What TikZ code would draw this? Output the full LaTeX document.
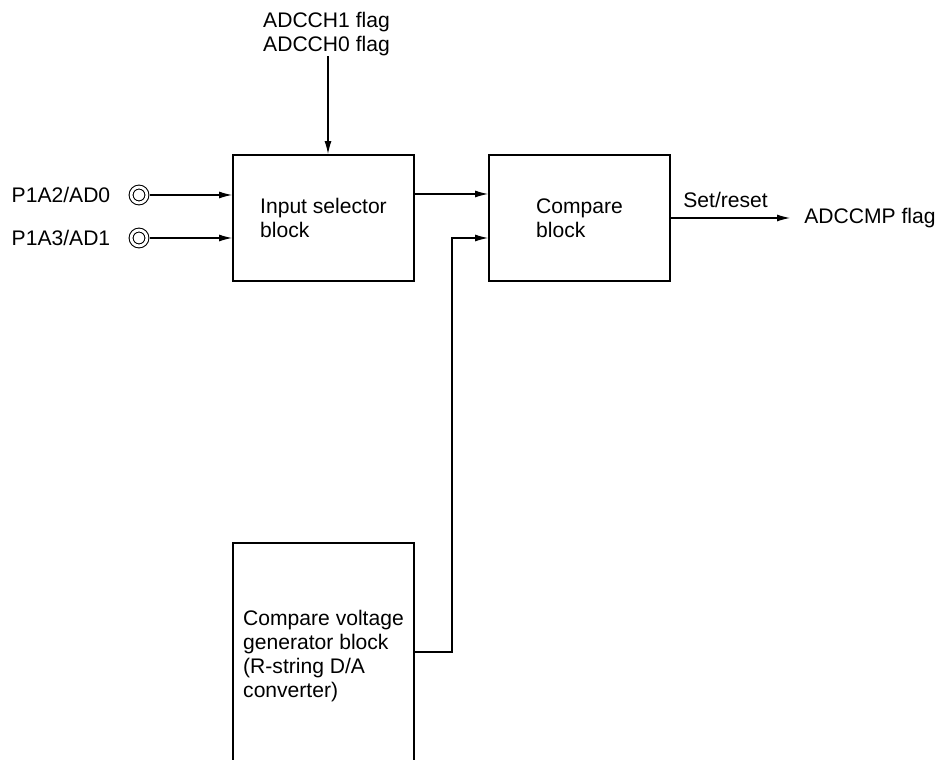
\documentclass[tikz,border=0pt]{standalone}
\usepackage{fontspec}
\setmainfont{Liberation Sans}
\usetikzlibrary{arrows.meta, positioning}

\begin{document}
\begin{tikzpicture}[>={Latex[length=2.6mm, width=1.4mm]},
    font=\fontsize{12}{13.6}\selectfont,
    block/.style={
        draw, line width=1.1pt, minimum width=3.62cm, minimum height=2.52cm,
        align=left, inner sep=0pt
    },
    term/.style={
        circle, draw, line width=0.6pt, double, double distance=1.6pt,
        minimum size=9pt, inner sep=0pt
    },
    signal/.style={->, line width=0.6pt},
    tlab/.style={inner sep=0pt, align=center},
]
    \clip (0,0) rectangle (18.76,15.18);
    \useasboundingbox (0,0) rectangle (18.76,15.18);

    % blocks
    \node[block] (sel) at (6.47,10.82) {Input selector\\block};
    \node[block] (cmp) at (11.59,10.82) {Compare\\block};
    \node[block, minimum height=4.52cm] (vgen) at (6.47,2.06)
        {Compare voltage\\generator block\\(R-string D/A\\converter)};

    % input pins
    \node[term] (p0) at (2.78,11.28) {};
    \node[term] (p1) at (2.78,10.42) {};
    \node[tlab, left=0.4cm of p0] (p0lab) {P1A2/AD0};
    \node[tlab, left=0.4cm of p1] (p1lab) {P1A3/AD1};

    % channel select flags
    \node[tlab, anchor=south] (chflag) at (6.53,14.05) {ADCCH1 flag\\ADCCH0 flag};

    % output
    \coordinate (outtip) at (15.8,10.82);
    \node[tlab, anchor=west] (cmpflag) at (16.08,10.82) {ADCCMP flag};
    \node[tlab, anchor=base west] (setlab) at (13.66,11.02) {Set/reset};

    \draw[signal, shorten <=1.4pt] (p0.east) -- (sel.west |- p0);
    \draw[signal, shorten <=1.4pt] (p1.east) -- (sel.west |- p1);
    \draw[signal] (chflag.south -| 6.56,0) -- (6.56,0 |- sel.north);
    \draw[signal] ([yshift=0.48cm]sel.east) -- ([yshift=0.48cm]cmp.west);
    \draw[signal] ([yshift=0.08cm]vgen.east) -| (9.04,10.42) -- (cmp.west |- 0,10.42);
    \draw[signal] (cmp.east) -- (outtip);

\end{tikzpicture}
\end{document}
